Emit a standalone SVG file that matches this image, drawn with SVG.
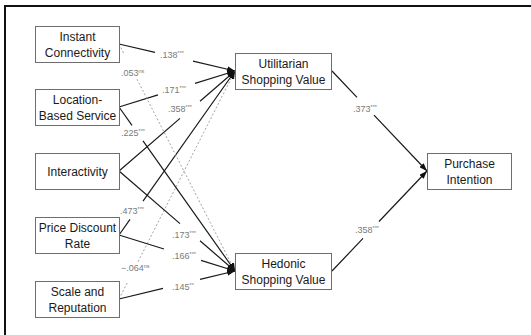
<svg xmlns="http://www.w3.org/2000/svg" width="531" height="335" viewBox="0 0 531 335">
  <style>
    .box { fill: #ffffff; stroke: #6e6e6e; stroke-width: 1; }
    .node { font-family: "Liberation Sans", Arial, sans-serif; font-size: 12px; fill: #1a1a1a; text-anchor: middle; }
    .edge { fill: none; stroke: #1a1a1a; stroke-width: 1.2; }
    .dash { fill: none; stroke: #9a9a9a; stroke-width: 0.9; stroke-dasharray: 2 2; }
    .lbl { font-family: "Liberation Sans", Arial, sans-serif; font-size: 9px; fill: #7a7a7a; }
    .sup { font-size: 5.5px; }
    .frame { stroke: #111111; stroke-width: 2; fill: none; }
  </style>
  <defs>
    <marker id="arrow" viewBox="0 0 8 6" refX="8" refY="3" markerWidth="8" markerHeight="6" markerUnits="userSpaceOnUse" orient="auto">
      <path d="M0,0 L8,3 L0,6 Z" fill="#111111"/>
    </marker>
  </defs>

  <rect width="531" height="335" fill="#ffffff"/>
  <path class="frame" d="M5,335 L5,6 L531,6"/>

  <g id="connectors">
    <!-- predictors to utilitarian shopping value -->
    <path class="edge" d="M119,44 L155,52.4 M193,61.2 L235,71" marker-end="url(#arrow)"/>
    <path class="edge" d="M119,107 L158,94.9 M195,83.4 L235,71" marker-end="url(#arrow)"/>
    <path class="edge" d="M119,171 L180,118.4 M200,101.2 L235,71" marker-end="url(#arrow)"/>
    <path class="edge" d="M119,235 L130,219.4 M143,201.1 L235,71" marker-end="url(#arrow)"/>
    <path class="dash" d="M119,299 L128,281.3 M138,261.7 L235,71" marker-end="url(#arrow)"/>
    <!-- predictors to hedonic shopping value -->
    <path class="dash" d="M119,44 L124,53.8 M137,79.2 L235,271" marker-end="url(#arrow)"/>
    <path class="edge" d="M119,107 L132,125.4 M143,140.9 L235,271" marker-end="url(#arrow)"/>
    <path class="edge" d="M119,171 L180,223.6 M200,240.8 L235,271" marker-end="url(#arrow)"/>
    <path class="edge" d="M119,235 L164,249 M201,260.4 L235,271" marker-end="url(#arrow)"/>
    <path class="edge" d="M119,299 L163,288.4 M200,279.4 L235,271" marker-end="url(#arrow)"/>
    <!-- shopping values to purchase intention -->
    <path class="edge" d="M332,71 L357,97.3 M374,115.2 L427,171" marker-end="url(#arrow)"/>
    <path class="edge" d="M332,271 L363,238.4 M379,221.5 L427,171" marker-end="url(#arrow)"/>

    <!-- path coefficients -->
    <text class="lbl" x="160" y="58">.138<tspan class="sup" dy="-3">***</tspan></text>
    <text class="lbl" x="162" y="93">.171<tspan class="sup" dy="-3">***</tspan></text>
    <text class="lbl" x="168" y="112">.358<tspan class="sup" dy="-3">***</tspan></text>
    <text class="lbl" x="120" y="214">.473<tspan class="sup" dy="-3">***</tspan></text>
    <text class="lbl" x="121" y="271">−.064<tspan class="sup" dy="-3">ns</tspan></text>
    <text class="lbl" x="121" y="76">.053<tspan class="sup" dy="-3">ns</tspan></text>
    <text class="lbl" x="121" y="136">.225<tspan class="sup" dy="-3">***</tspan></text>
    <text class="lbl" x="172" y="238">.173<tspan class="sup" dy="-3">***</tspan></text>
    <text class="lbl" x="172" y="259">.166<tspan class="sup" dy="-3">***</tspan></text>
    <text class="lbl" x="172" y="290">.145<tspan class="sup" dy="-3">**</tspan></text>
    <text class="lbl" x="353" y="112">.373<tspan class="sup" dy="-3">***</tspan></text>
    <text class="lbl" x="355" y="233">.358<tspan class="sup" dy="-3">***</tspan></text>
  </g>

  <g id="instant-connectivity">
    <rect class="box" x="35.5" y="26.5" width="84" height="36"/>
    <text class="node" x="77.5" y="41">Instant</text>
    <text class="node" x="77.5" y="57">Connectivity</text>
  </g>
  <g id="location-based-service">
    <rect class="box" x="35.5" y="89.5" width="84" height="36"/>
    <text class="node" x="77.5" y="104">Location-</text>
    <text class="node" x="77.5" y="120">Based Service</text>
  </g>
  <g id="interactivity">
    <rect class="box" x="35.5" y="153.5" width="84" height="36"/>
    <text class="node" x="77.5" y="176">Interactivity</text>
  </g>
  <g id="price-discount-rate">
    <rect class="box" x="35.5" y="217.5" width="84" height="36"/>
    <text class="node" x="77.5" y="232">Price Discount</text>
    <text class="node" x="77.5" y="248">Rate</text>
  </g>
  <g id="scale-and-reputation">
    <rect class="box" x="35.5" y="281.5" width="84" height="36"/>
    <text class="node" x="77.5" y="296">Scale and</text>
    <text class="node" x="77.5" y="312">Reputation</text>
  </g>
  <g id="utilitarian-shopping-value">
    <rect class="box" x="235.5" y="53.5" width="96" height="36"/>
    <text class="node" x="283.5" y="68">Utilitarian</text>
    <text class="node" x="283.5" y="84">Shopping Value</text>
  </g>
  <g id="hedonic-shopping-value">
    <rect class="box" x="235.5" y="253.5" width="96" height="36"/>
    <text class="node" x="283.5" y="268">Hedonic</text>
    <text class="node" x="283.5" y="284">Shopping Value</text>
  </g>
  <g id="purchase-intention">
    <rect class="box" x="427.5" y="153.5" width="84" height="36"/>
    <text class="node" x="469.5" y="168">Purchase</text>
    <text class="node" x="469.5" y="184">Intention</text>
  </g>
</svg>
